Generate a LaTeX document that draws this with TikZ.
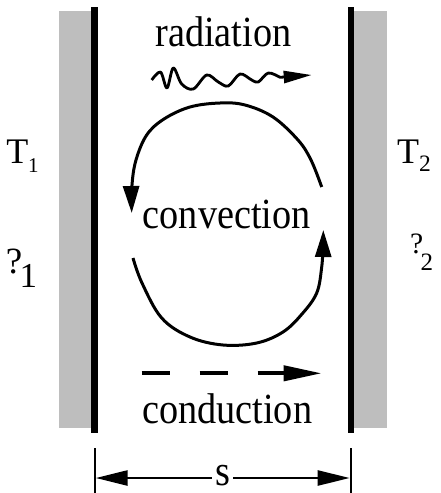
\documentclass[tikz,border=0pt]{standalone}
\usepackage{fontspec}
\setmainfont{Liberation Serif}
\newfontfamily\lblfont[FakeStretch=0.89]{Liberation Serif}
\usetikzlibrary{arrows.meta}
\definecolor{wallgray}{RGB}{190,190,190}
\begin{document}
\begin{tikzpicture}[x=1pt,y=-1pt,
  lbl/.style={inner sep=0pt, anchor=base, font=\lblfont\fontsize{43}{44}\selectfont},
  sym/.style={inner sep=0pt, anchor=base west},
  wall/.style={line width=6.5pt},
  wallfill/.style={fill=wallgray},
  flow/.style={line width=3pt, -{Triangle[length=27pt,width=16pt]}},
  wave/.style={line width=2.8pt, line join=round, -{Triangle[length=28pt,width=12pt]}},
  condarrow/.style={line width=4pt, dash pattern=on 28pt off 30pt, -{Triangle[length=38pt,width=15pt]}},
  dimarrow/.style={line width=2.5pt, -{Triangle[length=32pt,width=15pt]}},
  tickline/.style={line width=2pt}]
\useasboundingbox (0,0) rectangle (441,493);
% walls
\fill[wallfill] (59,11) rectangle (91.3,428);
\fill[wallfill] (354,11) rectangle (386.7,428);
\coordinate (lwt) at (94.5,7);
\coordinate (lwb) at (94.5,433);
\coordinate (rwt) at (351,7);
\coordinate (rwb) at (351,433);
\draw[wall] (lwt) -- (lwb);
\draw[wall] (rwt) -- (rwb);
% labels
\node[lbl] (rad) at (223.3,46) {radiation};
\node[lbl] (conv) at (226.7,228) {convection};
\node[lbl] (cond) at (227.2,423.3) {conduction};
\node[lbl] (s) at (222.5,485) {s};
% temperatures / emissivities
\node[sym, font=\fontsize{36}{37}\selectfont] (T1) at (6.2,163) {T};
\node[sym, font=\fontsize{21}{22}\selectfont] (T1s) at (28,172) {1};
\node[sym, font=\fontsize{37}{38}\selectfont] (e1) at (5.7,273) {?};
\node[sym, font=\fontsize{35}{36}\selectfont] (e1s) at (19.5,287) {1};
\node[sym, font=\fontsize{36}{37}\selectfont] (T2) at (397,163) {T};
\node[sym, font=\fontsize{23.5}{24}\selectfont] (T2s) at (419,171) {2};
\node[sym, font=\fontsize{29.6}{30}\selectfont] (e2) at (410,253) {?};
\node[sym, font=\fontsize{25}{26}\selectfont] (e2s) at (420.5,270) {2};
% radiation wave
\coordinate (wavetip) at (311.7,75);
\draw[wave] plot[smooth, tension=0.55] coordinates {(151.7,80) (160.5,72) (167,88) (173.3,68) (181.7,84) (193.3,89) (206.7,75) (218.3,82) (228.3,86) (240,74) (251.7,80) (258.3,82) (268.3,73) (280,77.3)} -- (wavetip);
% convection loop
\draw[flow] plot[smooth, tension=0.6] coordinates {(321.7,187) (311,160) (298,140) (273,117) (245,105) (220,103) (190,107) (164,119) (146.7,135) (136,160) (132,185) (131.7,213)};
\draw[flow] plot[smooth, tension=0.6] coordinates {(133,258) (142,283) (161.7,318) (190,337) (223,345) (256.7,343) (283,332) (302,314) (316.7,293) (321.7,267) (323,245) (323.3,230)};
% conduction
\coordinate (cs) at (141.7,373.3);
\coordinate (ce) at (321.7,373.3);
\draw[condarrow] (cs) -- (ce);
% dimension
\coordinate (tlt) at (94.7,448);
\coordinate (tlb) at (94.7,493);
\coordinate (trt) at (350.7,448);
\coordinate (trb) at (350.7,493);
\draw[tickline] (tlt) -- (tlb);
\draw[tickline] (trt) -- (trb);
\coordinate (dl) at (95.7,478);
\coordinate (dr) at (349.7,478);
\draw[dimarrow] ([xshift=-3.3pt]s.west |- dl) -- (dl);
\draw[dimarrow] ([xshift=3.3pt]s.east |- dr) -- (dr);
\end{tikzpicture}
\end{document}
